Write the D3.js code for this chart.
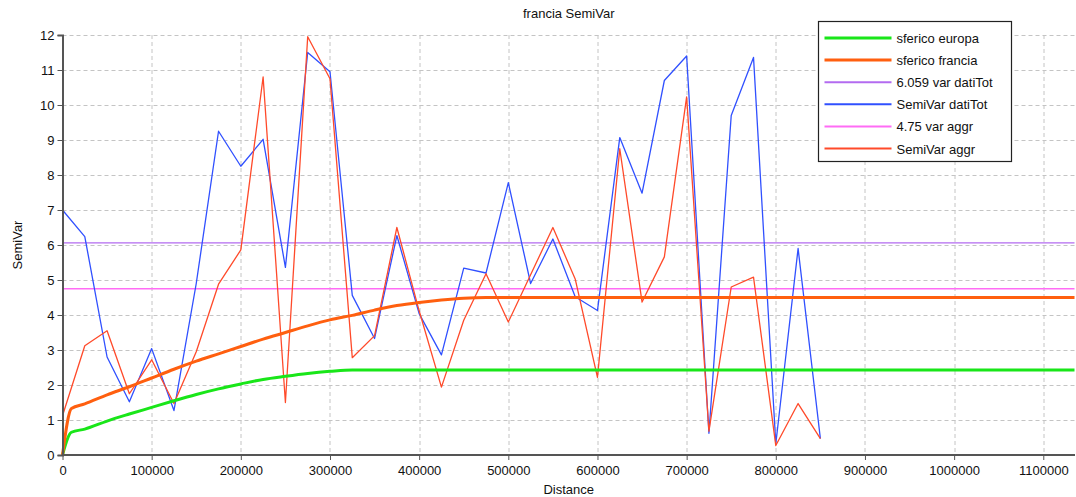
<!DOCTYPE html>
<html>
<head>
<meta charset="utf-8">
<script src="https://cdn.jsdelivr.net/npm/d3@7"></script>
<style>
  body { margin: 0; background: #fff; }
  text { font-family: "Liberation Sans", Arial, sans-serif; fill: #111; }
</style>
</head>
<body>
<div id="chart-area"></div>
<script>
const WIDTH = 1076, HEIGHT = 497;
const margin = { left: 62.5, right: 1, top: 35, bottom: 42 };

// lag distances of the experimental semivariograms
const lags = [0, 25000, 50000, 75000, 100000, 125000, 150000, 175000, 200000, 225000,
  250000, 275000, 300000, 325000, 350000, 375000, 400000, 425000, 450000, 475000,
  500000, 525000, 550000, 575000, 600000, 625000, 650000, 675000, 700000, 725000,
  750000, 775000, 800000, 825000, 850000];
const semiVarDatiTot = [7.0, 6.24, 2.8, 1.52, 3.04, 1.27, 4.9, 9.25, 8.25, 9.02,
  5.36, 11.5, 10.95, 4.56, 3.33, 6.27, 4.04, 2.86, 5.34, 5.2,
  7.78, 4.9, 6.17, 4.52, 4.13, 9.07, 7.48, 10.7, 11.4, 0.62,
  9.7, 11.36, 0.32, 5.9, 0.47];
const semiVarAggr = [1.12, 3.12, 3.55, 1.75, 2.72, 1.47, 2.95, 4.88, 5.86, 10.8,
  1.5, 11.95, 10.75, 2.78, 3.41, 6.5, 4.12, 1.94, 3.85, 5.18,
  3.8, 5.15, 6.5, 5.03, 2.22, 8.75, 4.37, 5.66, 10.23, 0.68,
  4.8, 5.08, 0.27, 1.47, 0.47];

// fitted spherical models
const modelDist = [0, 10000, 25000, 50000, 75000, 100000, 125000, 150000, 175000, 200000,
  225000, 250000, 275000, 300000, 325000, 350000, 375000, 400000, 425000, 450000,
  475000, 1135000];
const sfericoEuropa = [0, 0.65, 0.74, 0.97, 1.17, 1.36, 1.55, 1.73, 1.89, 2.03,
  2.16, 2.25, 2.33, 2.39, 2.43, 2.43, 2.43, 2.43, 2.43, 2.43,
  2.43, 2.43];
const sfericoFrancia = [0, 1.33, 1.46, 1.72, 1.95, 2.2, 2.45, 2.68, 2.89, 3.1,
  3.31, 3.5, 3.69, 3.86, 3.99, 4.14, 4.27, 4.36, 4.43, 4.48,
  4.5, 4.5];

const varDatiTot = 6.059;
const varAggr = 4.75;

const xTicks = [0, 100000, 200000, 300000, 400000, 500000, 600000, 700000, 800000, 900000, 1000000, 1100000];
const yTicks = [0, 1, 2, 3, 4, 5, 6, 7, 8, 9, 10, 11, 12];

const legendNames = ["sferico europa", "sferico francia", "6.059 var datiTot", "SemiVar datiTot", "4.75 var aggr", "SemiVar aggr"];
const colors = ["#19e619", "#ff5f0f", "#b36bf0", "#3050ff", "#ff6cf5", "#ff4a2a"];
const widths = [3, 3, 1.3, 1.3, 1.3, 1.3];

const W = WIDTH - margin.left - margin.right;
const H = HEIGHT - margin.top - margin.bottom;

const svg = d3.select("#chart-area").append("svg").attr("width", WIDTH).attr("height", HEIGHT);
const group = svg.append("g").attr("transform", `translate(${margin.left},${margin.top})`);

const x = d3.scaleLinear().domain([0, 1135000]).range([0, W - 0.5]);
const y = d3.scaleLinear().domain([0, 12]).range([H, 0]);

// grid
group.append("g").selectAll("line").data(yTicks.slice(1)).enter().append("line")
  .attr("x1", 0).attr("x2", W).attr("y1", d => Math.round(y(d)) + 0.5).attr("y2", d => Math.round(y(d)) + 0.5)
  .attr("stroke", "#c4c4c4").attr("stroke-dasharray", "4,3");
group.append("g").selectAll("line").data(xTicks.slice(1)).enter().append("line")
  .attr("y1", 0).attr("y2", H).attr("x1", d => Math.round(x(d)) + 0.5).attr("x2", d => Math.round(x(d)) + 0.5)
  .attr("stroke", "#c4c4c4").attr("stroke-dasharray", "4,3");

const line = d3.line().x(d => x(d[0])).y(d => y(d[1]));
const smooth = d3.line().x(d => x(d[0])).y(d => y(d[1])).curve(d3.curveMonotoneX);

const series = [
  { pts: modelDist.map((d, i) => [d, sfericoEuropa[i]]), gen: smooth },
  { pts: modelDist.map((d, i) => [d, sfericoFrancia[i]]), gen: smooth },
  { pts: [[0, varDatiTot], [1135000, varDatiTot]], gen: line },
  { pts: lags.map((d, i) => [d, semiVarDatiTot[i]]), gen: line },
  { pts: [[0, varAggr], [1135000, varAggr]], gen: line },
  { pts: lags.map((d, i) => [d, semiVarAggr[i]]), gen: line }
];
// draw order: reference lines, data, models
const order = [2, 4, 3, 5, 0, 1];
order.forEach(i => {
  group.append("path").attr("d", series[i].gen(series[i].pts))
    .attr("fill", "none").attr("stroke", colors[i]).attr("stroke-width", widths[i])
    .attr("stroke-linejoin", "round");
});

// axes
const xAxis = group.append("g").attr("transform", `translate(0,${H})`)
  .call(d3.axisBottom(x).tickValues(xTicks).tickFormat(d3.format("d")).tickSizeOuter(0).tickSize(5));
const yAxis = group.append("g")
  .call(d3.axisLeft(y).tickValues(yTicks).tickSizeOuter(0).tickSize(5));
[xAxis, yAxis].forEach(a => {
  a.select(".domain").attr("stroke", "#555").attr("stroke-width", 2);
  a.selectAll(".tick line").attr("stroke", "#555");
  a.selectAll(".tick text").attr("font-size", "13px").attr("fill", "#111")
    .attr("font-family", "'Liberation Sans', Arial, sans-serif");
});
xAxis.select(".domain").attr("d", `M0,0H${W}`);
xAxis.selectAll(".tick text").attr("dy", "0.9em");

// labels
svg.append("text").attr("x", margin.left + W / 2).attr("y", 18).attr("text-anchor", "middle")
  .attr("font-size", "13px").text("francia SemiVar");
svg.append("text").attr("x", margin.left + W / 2).attr("y", 494).attr("text-anchor", "middle")
  .attr("font-size", "13px").text("Distance");
svg.append("text").attr("transform", `translate(22,${margin.top + H / 2}) rotate(-90)`)
  .attr("text-anchor", "middle").attr("font-size", "13px").text("SemiVar");

// legend
const legend = svg.append("g").attr("transform", "translate(818.5,21.5)");
legend.append("rect").attr("width", 193).attr("height", 140).attr("fill", "#fff")
  .attr("stroke", "#222").attr("stroke-width", 1.2);
legendNames.forEach((name, i) => {
  const yy = 16.5 + i * 22.1;
  legend.append("line").attr("x1", 6).attr("x2", 73).attr("y1", yy).attr("y2", yy)
    .attr("stroke", colors[i]).attr("stroke-width", widths[i] === 3 ? 3 : 2);
  legend.append("text").attr("x", 78).attr("y", yy + 5).attr("font-size", "13px").text(name);
});
</script>
</body>
</html>
